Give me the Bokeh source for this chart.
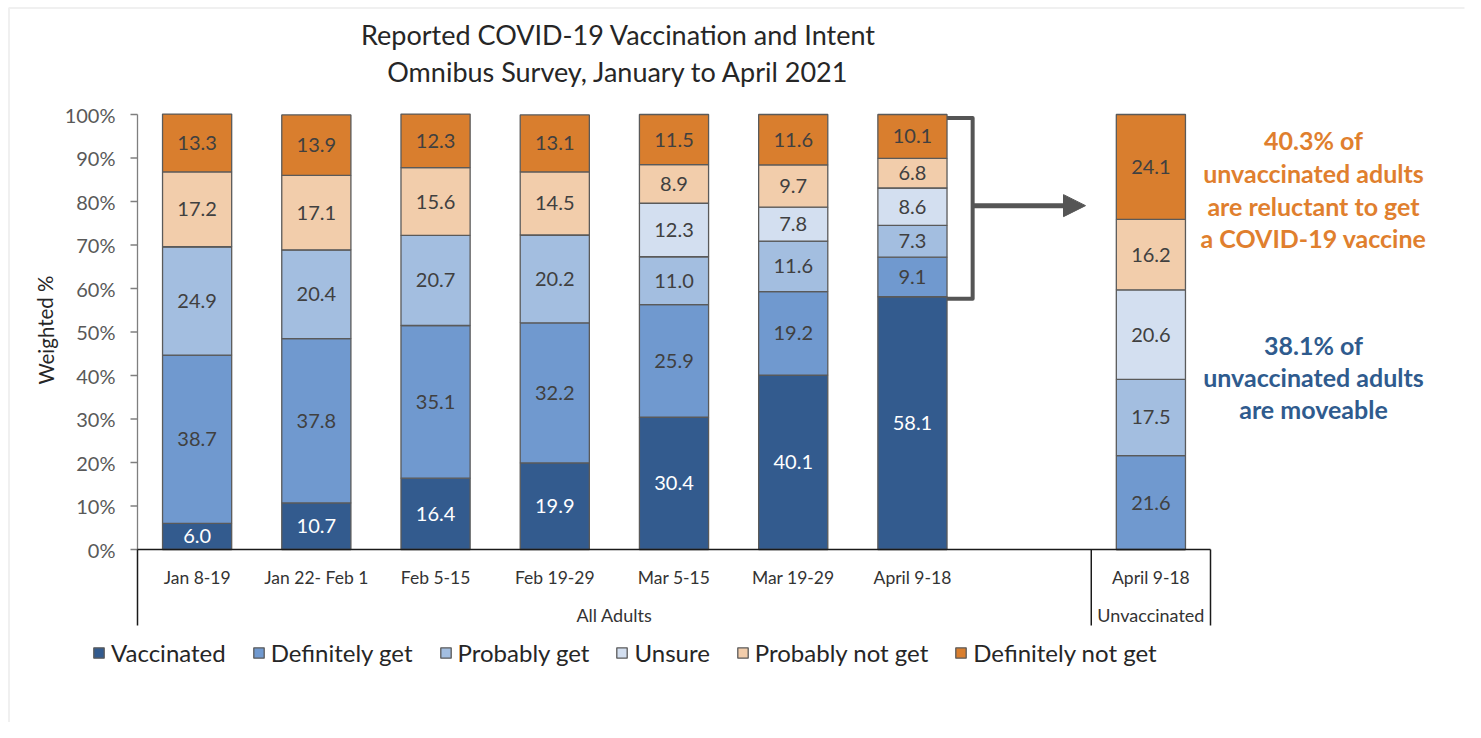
from bokeh.plotting import figure
from bokeh.models import (Legend, LegendItem, Arrow, NormalHead, ColumnDataSource)
from bokeh.core.properties import value
from bokeh.embed import file_html
from bokeh.resources import INLINE

# ---------------- data ----------------
periods = ["Jan 8-19", "Jan 22- Feb 1", "Feb 5-15", "Feb 19-29", "Mar 5-15",
           "Mar 19-29", "April 9-18", "April 9-18"]
series = ["Vaccinated", "Definitely get", "Probably get", "Unsure",
          "Probably not get", "Definitely not get"]
vaccinated = [6.0, 10.7, 16.4, 19.9, 30.4, 40.1, 58.1, 0.0]
definitely_get = [38.7, 37.8, 35.1, 32.2, 25.9, 19.2, 9.1, 21.6]
probably_get = [24.9, 20.4, 20.7, 20.2, 11.0, 11.6, 7.3, 17.5]
unsure = [0.0, 0.0, 0.0, 0.0, 12.3, 7.8, 8.6, 20.6]
probably_not = [17.2, 17.1, 15.6, 14.5, 8.9, 9.7, 6.8, 16.2]
definitely_not = [13.3, 13.9, 12.3, 13.1, 11.5, 11.6, 10.1, 24.1]
groups = ["All Adults", "Unvaccinated"]
n_all_adults = 7
y_ticks = [0, 10, 20, 30, 40, 50, 60, 70, 80, 90, 100]
y_tick_labels = [f"{t}%" for t in y_ticks]

colors = ["#335b8e", "#7099cf", "#a3bee0", "#d3dff0", "#f2cdab", "#d97e2e"]
FONT = "Lato"

# ---------------- layout (frame covers the whole canvas) ----------------
W, H = 1465, 722
AX_PX = 137          # pixel column of the value axis
TOP_PX = 114         # pixel row of 100 %
PX_X = (1210 - 137) / 9.0
PX_Y = 435 / 100.0
x_start = -0.5 - AX_PX / PX_X
x_end = x_start + W / PX_X
y_top = 100 + TOP_PX / PX_Y
y_bot = y_top - H / PX_Y


def dx(px):
    return px / PX_X


def dy(px):
    return px / PX_Y


pos = list(range(n_all_adults)) + [n_all_adults + 1]
BW = 0.58
x_ax = -0.5

p = figure(width=W, height=H, x_range=(x_start, x_end), y_range=(y_bot, y_top),
           output_backend="svg", toolbar_location=None,
           x_axis_location=None, y_axis_location=None,
           min_border_left=0, min_border_right=0, min_border_top=0,
           min_border_bottom=0, outline_line_color=None,
           background_fill_color="white", border_fill_color="white")
p.xgrid.visible = False
p.ygrid.visible = False

# faint panel frame
p.line(x=[x_start + dx(8.5), x_start + dx(8.5), x_end - dx(1)],
       y=[y_bot, y_top - dy(7.5), y_top - dy(7.5)],
       line_color="#f0f0f0", line_width=2)

data = {"x": pos}
vals = [vaccinated, definitely_get, probably_get, unsure, probably_not, definitely_not]
for name, v in zip(series, vals):
    data[name] = v
src = ColumnDataSource(data)
rs = p.vbar_stack(series, x="x", width=BW, source=src, color=colors,
                  line_color="#5a5a5a", line_width=1.3)

# segment value labels
lx, ly, lt, lc = [], [], [], []
bottoms = [0.0] * len(pos)
for si, v in enumerate(vals):
    for i, val in enumerate(v):
        if val > 0:
            lx.append(pos[i])
            ly.append(bottoms[i] + val / 2)
            lt.append(f"{val:.1f}")
            lc.append("#ffffff" if si == 0 else "#404040")
        bottoms[i] += val
p.text(x=lx, y=ly, text=lt, text_color=lc, text_align="center",
       text_baseline="middle", text_font=value(FONT), text_font_size="20px")

# value axis: line, ticks, labels
p.segment(x0=[x_ax], y0=[y_ticks[0]], x1=[x_ax], y1=[y_ticks[-1]],
          line_color="#7f7f7f", line_width=1.3)
p.segment(x0=[x_ax - dx(7)] * len(y_ticks), y0=y_ticks, x1=[x_ax] * len(y_ticks),
          y1=y_ticks, line_color="#7f7f7f", line_width=1.3)
p.text(x=[x_ax - dx(22)] * len(y_ticks), y=y_ticks, text=y_tick_labels,
       text_align="right", text_baseline="middle", text_font=value(FONT),
       text_font_size="20px", text_color="#595959")
p.text(x=[x_start + dx(45)], y=[(y_ticks[0] + y_ticks[-1]) / 2 + dy(2)],
       text=["Weighted %"], angle=1.5708, text_align="center",
       text_baseline="middle", text_font=value(FONT), text_font_size="20.5px",
       text_color="#262626")

# category axis lines
grp_lo = -dy(625 - 549)
last = pos[-1]
p.segment(x0=[x_ax, x_ax, n_all_adults + 0.5, last + 0.5],
          y0=[0, 0, 0, 0],
          x1=[last + 0.5, x_ax, n_all_adults + 0.5, last + 0.5],
          y1=[0, grp_lo, grp_lo, grp_lo],
          line_color="#1a1a1a", line_width=1.5)
p.text(x=pos, y=[-dy(28)] * len(pos), text=periods, text_align="center",
       text_baseline="middle", text_font=value(FONT), text_font_size="17.5px",
       text_color="#333333")
p.text(x=[(x_ax + n_all_adults + 0.5) / 2, last], y=[-dy(65)] * 2, text=groups,
       text_align="center", text_baseline="middle", text_font=value(FONT),
       text_font_size="18px", text_color="#333333")

# title
title_x = x_start + dx(618)
p.text(x=[title_x, title_x], y=[y_top - dy(34), y_top - dy(71)],
       text=["Reported COVID-19 Vaccination and Intent",
             "Omnibus Survey, January to April 2021"],
       text_align="center", text_baseline="middle", text_font=value(FONT),
       text_font_size="27px", text_color="#262626")

# bracket and arrow
i_apr = n_all_adults - 1
top = sum(v[i_apr] for v in vals)
bx0 = pos[i_apr] + BW / 2
bx1 = pos[i_apr] + 0.505
p.line(x=[bx0, bx1, bx1, bx0],
       y=[top - dy(3.5), top - dy(3.5), vaccinated[i_apr] - dy(2), vaccinated[i_apr] - dy(2)],
       line_color="#555555", line_width=4, line_join="round")
mid = (top + vaccinated[i_apr]) / 2
p.add_layout(Arrow(end=NormalHead(size=22, fill_color="#555555", line_color="#555555"),
                   x_start=bx1, y_start=mid, x_end=x_start + dx(1085), y_end=mid,
                   line_color="#555555", line_width=5))

# annotations
reluctant = probably_not[-1] + definitely_not[-1]
moveable = unsure[-1] + probably_get[-1]
ann_x = x_start + dx(1313)
orange_lines = [f"{reluctant:.1f}% of", "unvaccinated adults", "are reluctant to get",
                "a COVID-19 vaccine"]
blue_lines = [f"{moveable:.1f}% of", "unvaccinated adults", "are moveable"]
p.text(x=[ann_x] * 4, y=[y_top - dy(yy) for yy in (139, 172, 205, 237)],
       text=orange_lines, text_align="center", text_baseline="middle",
       text_font=value(FONT), text_font_size="25px", text_font_style="bold",
       text_color="#e07f2e")
p.text(x=[ann_x] * 3, y=[y_top - dy(yy) for yy in (344, 376, 408)],
       text=blue_lines, text_align="center", text_baseline="middle",
       text_font=value(FONT), text_font_size="25px", text_font_style="bold",
       text_color="#2f5b8e")

# legend
items = [LegendItem(label=s, renderers=[r]) for s, r in zip(series, rs)]
leg = Legend(items=items, orientation="horizontal", location=(92, 55),
             label_text_font=FONT, label_text_font_size="24px",
             label_text_color="#262626", glyph_width=13, glyph_height=13,
             spacing=26, label_standoff=6, padding=0, margin=0,
             border_line_color=None, background_fill_alpha=0)
p.add_layout(leg)

open("out.html", "w").write(file_html(p, INLINE))
